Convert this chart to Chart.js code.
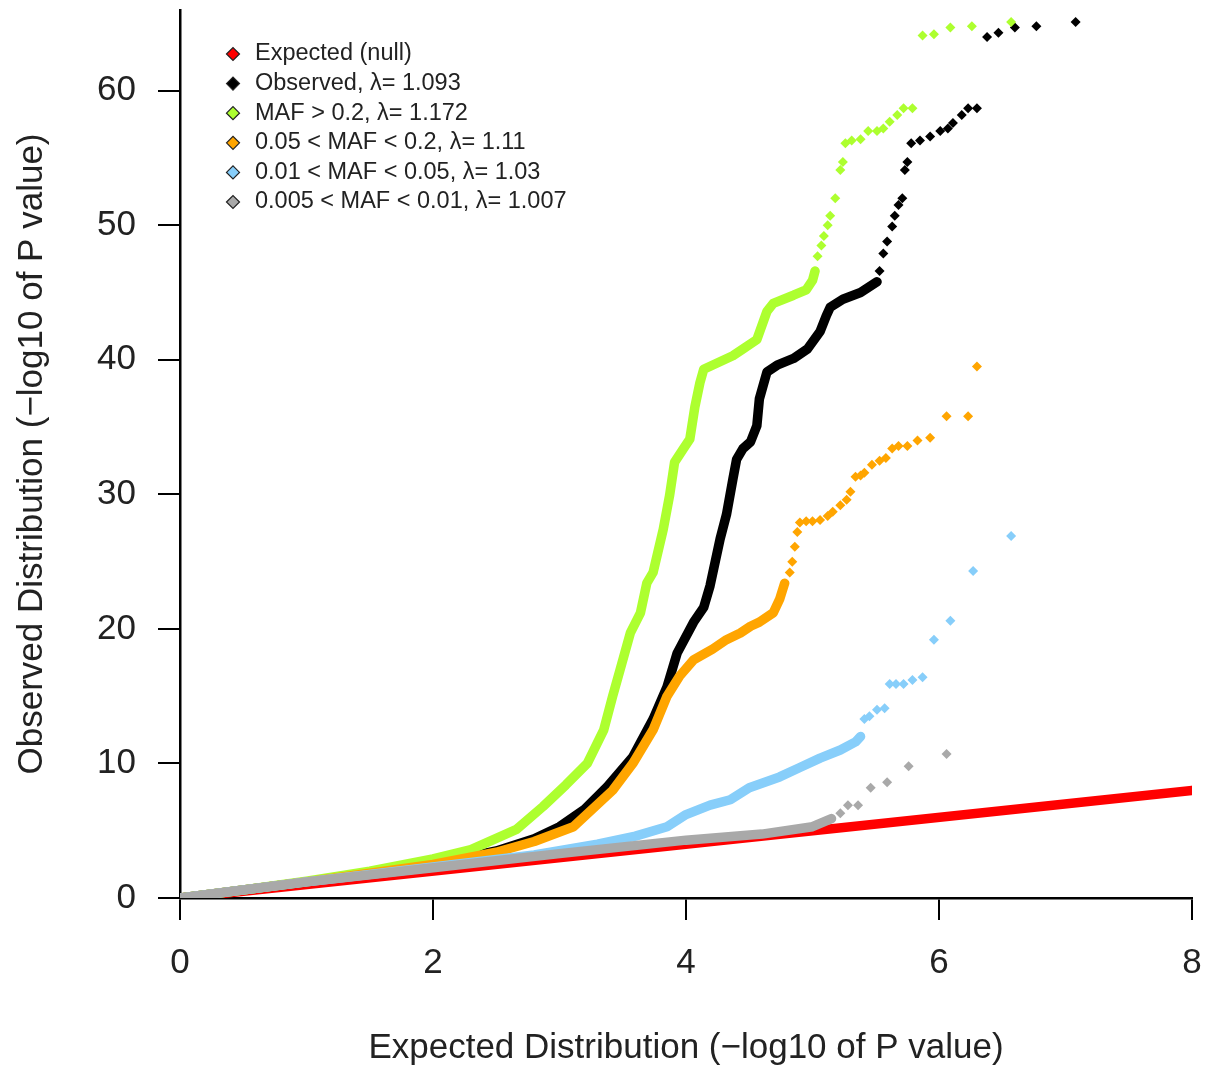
<!DOCTYPE html>
<html>
<head>
<meta charset="utf-8">
<title>QQ plot by MAF</title>
<script src="https://cdn.jsdelivr.net/npm/chart.js@4.4.1/dist/chart.umd.min.js"></script>
<style>
  html, body { margin: 0; padding: 0; background: #fff; }
  #qq { display: block; }
</style>
</head>
<body>
<canvas id="qq" width="1207" height="1070"></canvas>
<script>
// legend text, in the order of the legend
const seriesLabels = [
    'Expected (null)',
    'Observed, λ= 1.093',
    'MAF > 0.2, λ= 1.172',
    '0.05 < MAF < 0.2, λ= 1.11',
    '0.01 < MAF < 0.05, λ= 1.03',
    '0.005 < MAF < 0.01, λ= 1.007'
];

const xTicks = [0, 2, 4, 6, 8];
const yTicks = [0, 10, 20, 30, 40, 50, 60];

// [expected, observed] pairs.
// "band" = dense part of a series (overlapping points), "tail" = the separate top hits
const expectedLine = [[0, 0], [8, 8]];

const observedBand = [[0, 0], [1, 1.2], [2, 2.5], [2.5, 3.5], [2.8, 4.4], [3.0, 5.3], [3.2, 6.6],
    [3.38, 8.3], [3.58, 10.5], [3.74, 13.3], [3.85, 15.7], [3.93, 18.2], [4.06, 20.5], [4.14, 21.6],
    [4.19, 23.2], [4.27, 26.7], [4.32, 28.5], [4.37, 31.1], [4.40, 32.6], [4.45, 33.4], [4.51, 33.9],
    [4.56, 35.1], [4.58, 37.1], [4.64, 39.1], [4.72, 39.6], [4.85, 40.1], [4.96, 40.8], [5.06, 42.1],
    [5.11, 43.3], [5.14, 43.9], [5.24, 44.5], [5.38, 45.0], [5.51, 45.8]];
const observedTail = [[5.53, 46.6], [5.56, 47.9], [5.59, 48.8], [5.63, 49.9], [5.65, 50.7], [5.68, 51.5],
    [5.71, 52.0], [5.73, 54.1], [5.75, 54.7], [5.78, 56.1], [5.85, 56.3], [5.93, 56.6], [6.01, 57.0],
    [6.07, 57.2], [6.11, 57.6], [6.18, 58.2], [6.23, 58.7], [6.30, 58.7], [6.38, 64.0], [6.47, 64.3],
    [6.60, 64.7], [6.77, 64.8], [7.08, 65.1]];

const mafHighBand = [[0, 0], [0.5, 0.6], [1, 1.25], [1.5, 2.0], [2, 2.9], [2.3, 3.6], [2.66, 5.1],
    [2.87, 6.8], [3.05, 8.4], [3.22, 10.0], [3.35, 12.5], [3.42, 15.0], [3.48, 17.0], [3.56, 19.7],
    [3.64, 21.2], [3.69, 23.4], [3.74, 24.2], [3.82, 27.4], [3.87, 29.9], [3.91, 32.4], [3.98, 33.4],
    [4.03, 34.1], [4.07, 36.5], [4.11, 38.3], [4.14, 39.3], [4.37, 40.3], [4.45, 40.8], [4.56, 41.5],
    [4.64, 43.6], [4.69, 44.2], [4.85, 44.8], [4.95, 45.2], [5.0, 45.9], [5.02, 46.6]];
const mafHighTail = [[5.04, 47.7], [5.07, 48.5], [5.09, 49.2], [5.12, 50.0], [5.14, 50.7], [5.18, 52.0],
    [5.22, 54.1], [5.24, 54.7], [5.26, 56.1], [5.31, 56.3], [5.38, 56.4], [5.44, 57.0], [5.51, 57.0],
    [5.56, 57.2], [5.61, 57.7], [5.67, 58.2], [5.72, 58.7], [5.79, 58.7], [5.87, 64.1], [5.96, 64.2],
    [6.09, 64.7], [6.26, 64.8], [6.57, 65.1]];

const mafMidBand = [[0, 0], [1, 1.2], [2, 2.5], [2.5, 3.4], [2.8, 4.2], [3.11, 5.3], [3.42, 8.0],
    [3.58, 10.0], [3.74, 12.5], [3.85, 15.0], [3.95, 16.5], [4.06, 17.7], [4.21, 18.5], [4.32, 19.2],
    [4.43, 19.7], [4.51, 20.2], [4.58, 20.5], [4.69, 21.2], [4.74, 22.2], [4.78, 23.4]];
const mafMidTail = [[4.82, 24.2], [4.84, 25.0], [4.86, 26.1], [4.88, 27.2], [4.90, 27.9], [4.95, 28.0],
    [5.0, 28.0], [5.06, 28.1], [5.12, 28.4], [5.16, 28.7], [5.22, 29.2], [5.27, 29.6], [5.30, 30.2],
    [5.34, 31.3], [5.38, 31.4], [5.41, 31.6], [5.47, 32.2], [5.53, 32.5], [5.58, 32.7], [5.63, 33.4],
    [5.68, 33.6], [5.75, 33.6], [5.83, 34.0], [5.93, 34.2], [6.06, 35.8], [6.23, 35.8], [6.30, 39.5]];

const mafLowBand = [[0, 0], [1, 1.2], [2, 2.3], [2.8, 3.2], [3.3, 4.0], [3.6, 4.6], [3.85, 5.3],
    [4.0, 6.2], [4.19, 6.9], [4.35, 7.3], [4.5, 8.2], [4.74, 9.0], [4.9, 9.7], [5.06, 10.4],
    [5.22, 11.0], [5.34, 11.6], [5.38, 12.0]];
const mafLowTail = [[5.41, 13.3], [5.45, 13.5], [5.51, 14.0], [5.57, 14.1], [5.61, 15.9], [5.66, 15.9],
    [5.72, 15.9], [5.79, 16.2], [5.87, 16.4], [5.96, 19.2], [6.09, 20.6], [6.27, 24.3], [6.57, 26.9]];

const mafRareBand = [[0, 0], [1, 1.2], [2, 2.25], [3, 3.3], [4, 4.3], [4.6, 4.75], [5.0, 5.3], [5.15, 5.9]];
const mafRareTail = [[5.22, 6.3], [5.28, 6.9], [5.36, 6.9], [5.46, 8.2], [5.59, 8.6], [5.76, 9.8], [6.06, 10.7]];

const seriesColors = ['#ff0000', '#000000', '#adff2f', '#ffa500', '#87cefa', '#a9a9a9'];

const FONT = '"Liberation Sans", Arial, sans-serif';
const TEXT = '#222222';

const toPts = arr => arr.map(([x, y]) => ({ x: x, y: y }));

// thick band for the dense part of a series
function band(label, data, color, order) {
    return {
        label: label,
        data: toPts(data),
        showLine: true,
        borderColor: color,
        backgroundColor: color,
        borderWidth: 9.5,
        borderCapStyle: 'round',
        borderJoinStyle: 'round',
        pointRadius: 0,
        order: order
    };
}

// diamonds for the separate top hits
function tail(label, data, color, order) {
    return {
        label: label,
        data: toPts(data),
        showLine: false,
        pointStyle: 'rectRot',
        pointRadius: 5,
        pointBorderWidth: 0,
        pointBackgroundColor: color,
        backgroundColor: color,
        borderColor: color,
        order: order
    };
}

// legend drawn inside the plot, top-left, like the original
const cornerLegend = {
    id: 'cornerLegend',
    afterDraw(chart) {
        const ctx = chart.ctx;
        const x0 = chart.chartArea.left + 53;
        const y0 = chart.chartArea.top + 44;
        ctx.save();
        ctx.font = '23.5px ' + FONT;
        ctx.textBaseline = 'middle';
        ctx.textAlign = 'left';
        seriesLabels.forEach((label, i) => {
            const y = y0 + i * 29.6;
            ctx.fillStyle = seriesColors[i];
            ctx.strokeStyle = '#222';
            ctx.lineWidth = 1.2;
            Chart.helpers.drawPoint(ctx, { pointStyle: 'rectRot', radius: 6.5, borderWidth: 1.2 }, x0, y);
            ctx.fillStyle = TEXT;
            ctx.fillText(label, x0 + 22, y);
        });
        ctx.restore();
    }
};

const axisCommon = {
    type: 'linear',
    grid: { display: true, drawOnChartArea: false, drawTicks: true, tickLength: 22, color: '#000', lineWidth: 2 },
    border: { display: true, color: '#000', width: 2.5 }
};

new Chart(document.getElementById('qq'), {
    type: 'scatter',
    data: {
        datasets: [
            band(seriesLabels[0], expectedLine, seriesColors[0], 12),
            band(seriesLabels[1], observedBand, seriesColors[1], 10),
            tail(seriesLabels[1], observedTail, seriesColors[1], 9),
            band(seriesLabels[2], mafHighBand, seriesColors[2], 8),
            tail(seriesLabels[2], mafHighTail, seriesColors[2], 7),
            band(seriesLabels[3], mafMidBand, seriesColors[3], 6),
            tail(seriesLabels[3], mafMidTail, seriesColors[3], 5),
            band(seriesLabels[4], mafLowBand, seriesColors[4], 4),
            tail(seriesLabels[4], mafLowTail, seriesColors[4], 3),
            band(seriesLabels[5], mafRareBand, seriesColors[5], 2),
            tail(seriesLabels[5], mafRareTail, seriesColors[5], 1)
        ]
    },
    options: {
        responsive: false,
        animation: false,
        events: [],
        layout: { padding: { top: 10, right: 15, left: 0, bottom: 0 } },
        plugins: {
            legend: { display: false },
            tooltip: { enabled: false }
        },
        scales: {
            x: Object.assign({}, axisCommon, {
                min: 0,
                max: 8,
                afterBuildTicks: s => { s.ticks = xTicks.map(v => ({ value: v })); },
                afterFit: s => { s.height = 172; s.paddingLeft = 0; s.paddingRight = 0; },
                ticks: { color: TEXT, font: { family: FONT, size: 35 }, padding: 22, maxRotation: 0 },
                title: {
                    display: true,
                    text: 'Expected Distribution (\u2212log10 of P value)',
                    color: TEXT,
                    font: { family: FONT, size: 35 },
                    padding: { bottom: 1 }
                }
            }),
            y: Object.assign({}, axisCommon, {
                min: 0,
                max: 66,
                afterBuildTicks: s => { s.ticks = yTicks.map(v => ({ value: v })); },
                afterFit: s => { s.width = 180; s.paddingTop = 0; s.paddingBottom = 0; },
                ticks: { color: TEXT, font: { family: FONT, size: 35 }, padding: 22 },
                title: {
                    display: true,
                    text: 'Observed Distribution (\u2212log10 of P value)',
                    color: TEXT,
                    font: { family: FONT, size: 35 },
                    padding: { top: 11 }
                }
            })
        }
    },
    plugins: [cornerLegend]
});
</script>
</body>
</html>
